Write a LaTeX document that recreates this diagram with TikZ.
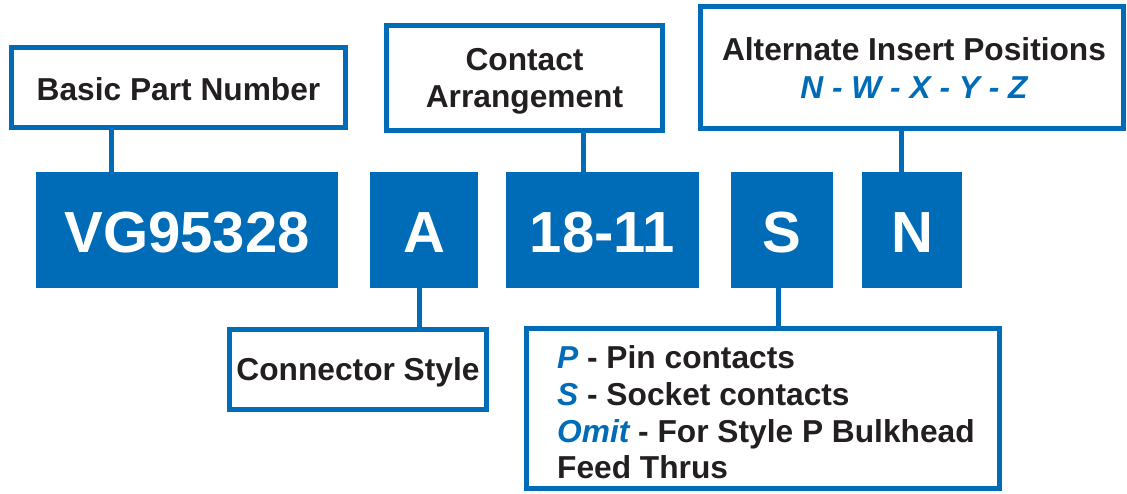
\documentclass[tikz,border=0pt]{standalone}
\usepackage{fontspec}
\setmainfont{Liberation Sans}
\definecolor{pnblue}{RGB}{0,108,183}
\definecolor{pntext}{RGB}{35,31,32}
\newcommand\bluit[1]{\textcolor{pnblue}{\itshape #1}}
\begin{document}
\begin{tikzpicture}[x=1pt,y=-1pt,
  frame/.style={draw=pnblue, line width=5pt, fill=white, inner sep=0pt},
  code/.style={fill=pnblue, inner sep=0pt, minimum height=116pt},
  big/.style={font=\fontsize{58}{64}\selectfont\bfseries, text=white, inner sep=0pt, anchor=base},
  lbl/.style={font=\fontsize{31.7}{37}\selectfont\bfseries, text=pntext, inner sep=0pt, anchor=base},
  lbll/.style={lbl, anchor=base west},
  link/.style={draw=pnblue, line width=5pt}]
\useasboundingbox (0,0) rectangle (1127,493);
% label boxes
\node[frame, minimum width=334pt, minimum height=80pt] (bpn) at (178.5,87.5) {};
\node[frame, minimum width=276pt, minimum height=105pt] (ca) at (524.5,78) {};
\node[frame, minimum width=423pt, minimum height=122pt] (aip) at (912,67.5) {};
\node[frame, minimum width=257pt, minimum height=80pt] (cs) at (358,369.5) {};
\node[frame, minimum width=473pt, minimum height=160pt] (sc) at (763,408.5) {};
% code boxes
\node[code, minimum width=302pt] (vg) at (187,230) {};
\node[code, minimum width=108pt] (a) at (424,230) {};
\node[code, minimum width=193pt] (ar) at (602.5,230) {};
\node[code, minimum width=102pt] (s) at (782,230) {};
\node[code, minimum width=100pt] (n) at (912,230) {};
% code texts
\node[big] (tvg) at (187,252) {VG95328};
\node[big] (ta) at (424,252) {A};
\node[big] (tar) at (602.5,252) {18-11};
\node[big] (ts) at (782,252) {S};
\node[big] (tn) at (912,252) {N};
% label texts
\node[lbl] (tbpn) at (178.5,100) {Basic Part Number};
\node[lbl] (tca1) at (524.5,70) {Contact};
\node[lbl] (tca2) at (524.5,107) {Arrangement};
\node[lbl] (taip1) at (914,60) {Alternate Insert Positions};
\node[lbl] (taip2) at (914,98) {\bluit{N - W - X - Y - Z}};
\node[lbl] (tcs) at (358,380) {Connector Style};
\node[lbll] (tsc1) at (557,368) {\bluit{P} - Pin contacts};
\node[lbll] (tsc2) at (557,405) {\bluit{S} - Socket contacts};
\node[lbll] (tsc3) at (557,442) {\bluit{Omit} - For Style P Bulkhead};
\node[lbll] (tsc4) at (557,478) {Feed Thrus};
% connectors
\coordinate (c1) at ([xshift=76pt]vg.north west);
\coordinate (c2) at ([xshift=78pt]ar.north west);
\coordinate (c3) at ([xshift=50pt]a.south west);
\coordinate (c4) at ([xshift=48pt]s.south west);
\coordinate (c5) at ([xshift=40pt]n.north west);
\draw[link] (c1) -- (c1 |- bpn.south);
\draw[link] (c2) -- (c2 |- ca.south);
\draw[link] (c3) -- (c3 |- cs.north);
\draw[link] (c4) -- (c4 |- sc.north);
\draw[link] (c5) -- (c5 |- aip.south);
\end{tikzpicture}
\end{document}
